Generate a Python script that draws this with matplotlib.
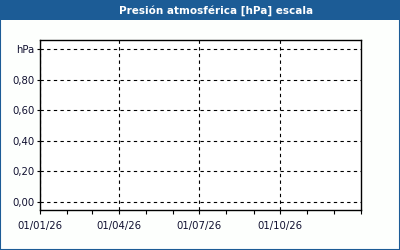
import matplotlib
matplotlib.use("Agg")
import matplotlib.pyplot as plt
import matplotlib.dates as mdates
from datetime import datetime

# axis setup (chart has no data)
title = "Presión atmosférica [hPa] escala"
x_start = datetime(2026, 1, 1)
x_end = datetime(2027, 1, 1)
x_ticks = [datetime(2026, 1, 1), datetime(2026, 4, 1),
           datetime(2026, 7, 1), datetime(2026, 10, 1)]
y_ticks = [0.0, 0.2, 0.4, 0.6, 0.8, 1.0]
y_labels = ["0,00", "0,20", "0,40", "0,60", "0,80", "hPa"]

W, H = 400, 250
fig = plt.figure(figsize=(W / 100, H / 100), dpi=100)
fig.patch.set_facecolor("#fdfffd")

# title bar
bar = fig.add_axes([0, 1 - 20 / H, 1, 20 / H])
bar.set_facecolor("#1c5c96")
bar.set_xticks([])
bar.set_yticks([])
for s in bar.spines.values():
    s.set_visible(False)
bar.text(0.54, 0.45, title, color="white", fontsize=7.5, fontweight="bold",
         ha="center", va="center", transform=bar.transAxes)

# outer border
border = fig.add_axes([0, 0, 1, 1 - 20 / H], facecolor="none")
border.set_xticks([])
border.set_yticks([])
for s in border.spines.values():
    s.set_color("#1c5c96")
    s.set_linewidth(1.5)
border.spines["top"].set_visible(False)

# plot area
ax = fig.add_axes([40 / W, (H - 210) / H, 321 / W, 170 / H])
ax.set_facecolor("white")
ax.set_xlim(x_start, x_end)
ax.set_ylim(-8 / 153, 1 + 9 / 153)

ax.set_xticks(x_ticks)
ax.xaxis.set_minor_locator(mdates.MonthLocator())
ax.xaxis.set_major_formatter(mdates.DateFormatter("%d/%m/%y"))
ax.set_yticks(y_ticks)
ax.set_yticklabels(y_labels)

ax.grid(True, which="major", color="black", linestyle=(0, (3, 3)), linewidth=0.8)
ax.tick_params(axis="both", which="both", direction="out", colors="black",
               labelsize=7.3, labelcolor="#101030", width=0.8)
ax.tick_params(axis="x", which="both", length=3, pad=5)
ax.tick_params(axis="y", length=2, pad=2)
for s in ax.spines.values():
    s.set_color("black")
    s.set_linewidth(1)

fig.savefig("out.png", dpi=100, facecolor=fig.get_facecolor())
